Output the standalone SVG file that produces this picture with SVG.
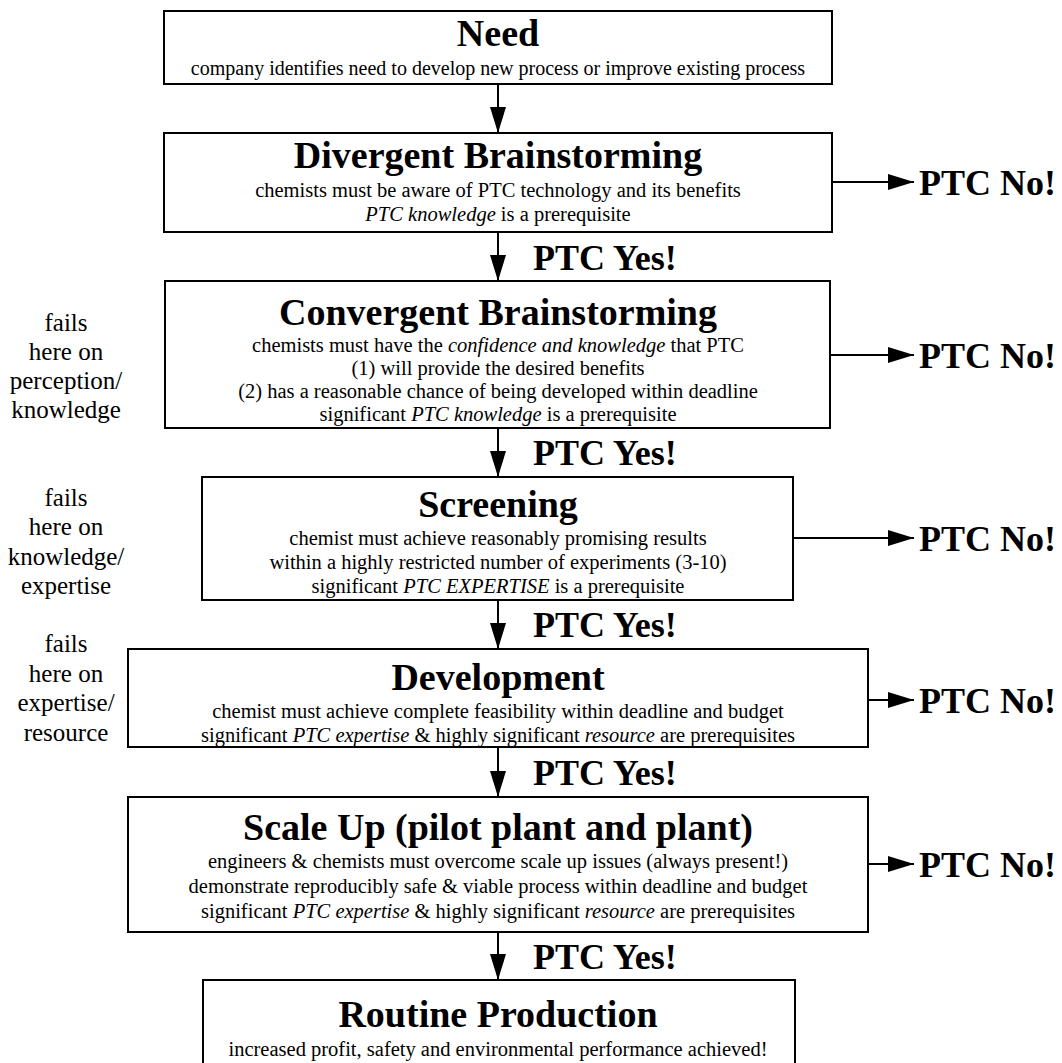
<svg xmlns="http://www.w3.org/2000/svg" width="1062" height="1063" viewBox="0 0 1062 1063">
<style>
.box{fill:#fff;stroke:#000;stroke-width:2}
.t{font-family:"Liberation Serif","Times New Roman",serif;font-weight:bold;font-size:38px;text-anchor:middle;fill:#000}
.b{font-family:"Liberation Serif","Times New Roman",serif;font-size:20.5px;text-anchor:middle;fill:#000}
.lab{font-family:"Liberation Serif","Times New Roman",serif;font-weight:bold;font-size:36px;fill:#000}
.side{font-family:"Liberation Serif","Times New Roman",serif;font-size:25px;text-anchor:middle;fill:#000}
.i{font-style:italic}
.c{stroke:#000;stroke-width:2;fill:none;marker-end:url(#ah)}
</style>
<defs>
<marker id="ah" viewBox="0 0 26 16" refX="26" refY="8" markerWidth="26" markerHeight="16" markerUnits="userSpaceOnUse" orient="auto">
<path d="M0,0 L26,8 L0,16 z" fill="#000"/>
</marker>
</defs>
<rect width="1062" height="1063" fill="#fff"/>
<g id="connectors">
<line class="c" x1="498" y1="84" x2="498" y2="133"/>
<line class="c" x1="498" y1="232" x2="498" y2="281"/>
<line class="c" x1="498" y1="428" x2="498" y2="477"/>
<line class="c" x1="498" y1="600" x2="498" y2="649"/>
<line class="c" x1="498" y1="747" x2="498" y2="797"/>
<line class="c" x1="498" y1="932" x2="498" y2="980"/>
<line class="c" x1="832" y1="182" x2="914" y2="182"/>
<line class="c" x1="830" y1="355" x2="914" y2="355"/>
<line class="c" x1="793" y1="538" x2="914" y2="538"/>
<line class="c" x1="868" y1="700" x2="914" y2="700"/>
<line class="c" x1="868" y1="864" x2="914" y2="864"/>
</g>
<g id="yes-labels">
<text class="lab" x="533" y="270">PTC Yes!</text>
<text class="lab" x="533" y="465">PTC Yes!</text>
<text class="lab" x="533" y="637">PTC Yes!</text>
<text class="lab" x="533" y="785">PTC Yes!</text>
<text class="lab" x="533" y="969">PTC Yes!</text>
</g>
<g id="no-labels">
<text class="lab" x="919" y="195">PTC No!</text>
<text class="lab" x="919" y="368">PTC No!</text>
<text class="lab" x="919" y="551">PTC No!</text>
<text class="lab" x="919" y="713">PTC No!</text>
<text class="lab" x="919" y="877">PTC No!</text>
</g>
<g id="side-notes">
<text class="side"><tspan x="66" y="331">fails</tspan><tspan x="66" y="360">here on</tspan><tspan x="66" y="389">perception/</tspan><tspan x="66" y="418">knowledge</tspan></text>
<text class="side"><tspan x="66" y="506">fails</tspan><tspan x="66" y="535">here on</tspan><tspan x="66" y="565">knowledge/</tspan><tspan x="66" y="594">expertise</tspan></text>
<text class="side"><tspan x="66" y="652">fails</tspan><tspan x="66" y="682">here on</tspan><tspan x="66" y="711">expertise/</tspan><tspan x="66" y="741">resource</tspan></text>
</g>
<g id="need">
<rect class="box" x="164" y="11" width="668" height="73"/>
<text class="t" x="498" y="46">Need</text>
<text class="b" x="498" y="75" style="font-size:20px">company identifies need to develop new process or improve existing process</text>
</g>
<g id="divergent">
<rect class="box" x="164" y="133" width="668" height="99"/>
<text class="t" x="498" y="168">Divergent Brainstorming</text>
<text class="b" x="498" y="197">chemists must be aware of PTC technology and its benefits</text>
<text class="b" x="498" y="221"><tspan class="i">PTC knowledge</tspan> is a prerequisite</text>
</g>
<g id="convergent">
<rect class="box" x="165" y="281" width="665" height="147"/>
<text class="t" x="498" y="325">Convergent Brainstorming</text>
<text class="b" x="498" y="352">chemists must have the <tspan class="i">confidence and knowledge</tspan> that PTC</text>
<text class="b" x="498" y="375">(1) will provide the desired benefits</text>
<text class="b" x="498" y="398">(2) has a reasonable chance of being developed within deadline</text>
<text class="b" x="498" y="421">significant <tspan class="i">PTC knowledge</tspan> is a prerequisite</text>
</g>
<g id="screening">
<rect class="box" x="202" y="477" width="591" height="123"/>
<text class="t" x="498" y="517">Screening</text>
<text class="b" x="498" y="545">chemist must achieve reasonably promising results</text>
<text class="b" x="498" y="569">within a highly restricted number of experiments (3-10)</text>
<text class="b" x="498" y="593">significant <tspan class="i">PTC EXPERTISE</tspan> is a prerequisite</text>
</g>
<g id="development">
<rect class="box" x="128" y="649" width="740" height="98"/>
<text class="t" x="498" y="690">Development</text>
<text class="b" x="498" y="718">chemist must achieve complete feasibility within deadline and budget</text>
<text class="b" x="498" y="742">significant <tspan class="i">PTC expertise</tspan> &amp; highly significant <tspan class="i">resource</tspan> are prerequisites</text>
</g>
<g id="scaleup">
<rect class="box" x="128" y="797" width="740" height="135"/>
<text class="t" x="498" y="840">Scale Up (pilot plant and plant)</text>
<text class="b" x="498" y="868">engineers &amp; chemists must overcome scale up issues (always present!)</text>
<text class="b" x="498" y="893">demonstrate reproducibly safe &amp; viable process within deadline and budget</text>
<text class="b" x="498" y="918">significant <tspan class="i">PTC expertise</tspan> &amp; highly significant <tspan class="i">resource</tspan> are prerequisites</text>
</g>
<g id="routine">
<rect class="box" x="203" y="980" width="592" height="95"/>
<text class="t" x="498" y="1027">Routine Production</text>
<text class="b" x="498" y="1056">increased profit, safety and environmental performance achieved!</text>
</g>
</svg>
